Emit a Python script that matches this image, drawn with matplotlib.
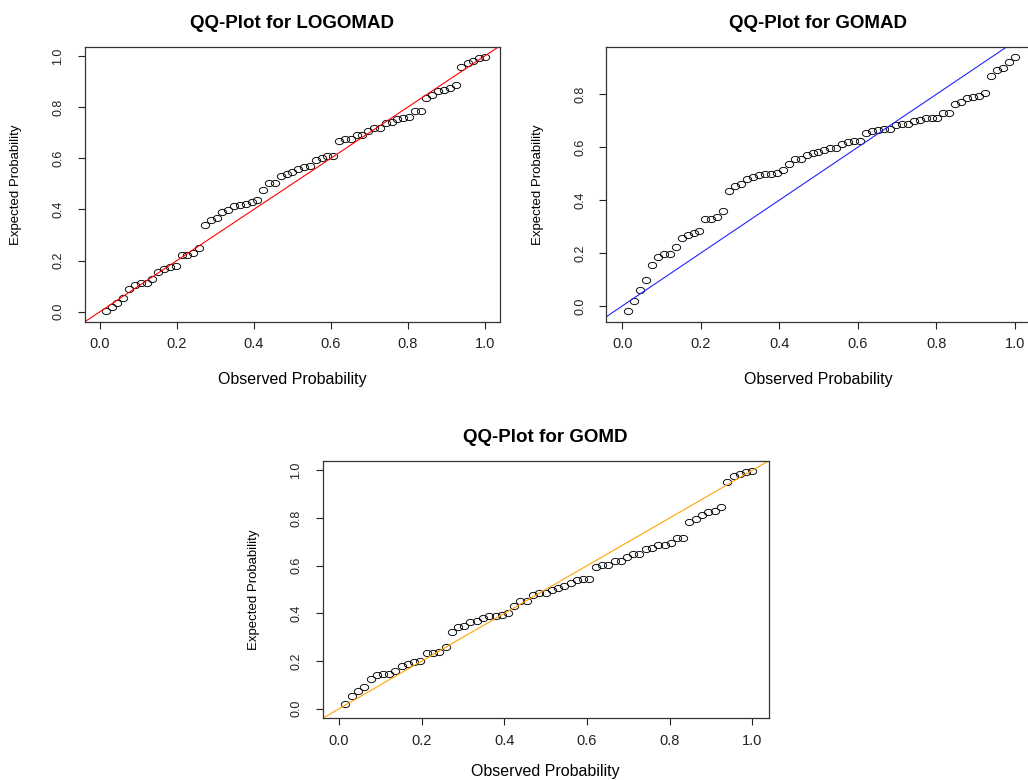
import numpy as np
import matplotlib
matplotlib.use("Agg")
import matplotlib.pyplot as plt
from matplotlib.path import Path

plt.rcParams['font.family'] = ['Liberation Sans', 'DejaVu Sans']

# plotting positions i/66 shared by all three fits
observed = [0.015, 0.030, 0.045, 0.061, 0.076, 0.091, 0.106, 0.121, 0.136, 0.152,
            0.167, 0.182, 0.197, 0.212, 0.227, 0.242, 0.258, 0.273, 0.288, 0.303,
            0.318, 0.333, 0.348, 0.364, 0.379, 0.394, 0.409, 0.424, 0.439, 0.455,
            0.470, 0.485, 0.500, 0.515, 0.530, 0.545, 0.561, 0.576, 0.591, 0.606,
            0.621, 0.636, 0.652, 0.667, 0.682, 0.697, 0.712, 0.727, 0.742, 0.758,
            0.773, 0.788, 0.803, 0.818, 0.833, 0.848, 0.864, 0.879, 0.894, 0.909,
            0.924, 0.939, 0.955, 0.970, 0.985, 1.000]

expected_logomad = [0.003, 0.020, 0.035, 0.055, 0.087, 0.103, 0.112, 0.112, 0.129, 0.155,
                    0.165, 0.174, 0.178, 0.220, 0.220, 0.228, 0.250, 0.337, 0.360, 0.368,
                    0.390, 0.399, 0.414, 0.419, 0.420, 0.427, 0.438, 0.475, 0.502, 0.505,
                    0.529, 0.537, 0.545, 0.557, 0.566, 0.568, 0.594, 0.601, 0.607, 0.610,
                    0.666, 0.674, 0.674, 0.689, 0.689, 0.705, 0.719, 0.719, 0.739, 0.740,
                    0.753, 0.756, 0.761, 0.783, 0.783, 0.836, 0.849, 0.861, 0.867, 0.874,
                    0.888, 0.958, 0.974, 0.979, 0.991, 0.995]

expected_gomad = [-0.020, 0.018, 0.060, 0.098, 0.157, 0.184, 0.198, 0.198, 0.222, 0.256,
                  0.268, 0.277, 0.285, 0.330, 0.330, 0.336, 0.360, 0.436, 0.455, 0.460,
                  0.479, 0.486, 0.494, 0.500, 0.500, 0.503, 0.513, 0.538, 0.557, 0.556,
                  0.572, 0.577, 0.581, 0.590, 0.596, 0.598, 0.611, 0.619, 0.622, 0.624,
                  0.654, 0.661, 0.664, 0.670, 0.669, 0.683, 0.689, 0.689, 0.699, 0.704,
                  0.709, 0.709, 0.711, 0.728, 0.728, 0.765, 0.772, 0.785, 0.789, 0.795,
                  0.804, 0.871, 0.892, 0.898, 0.922, 0.940]

expected_gomd = [0.019, 0.052, 0.073, 0.093, 0.123, 0.140, 0.145, 0.145, 0.159, 0.180,
                 0.189, 0.195, 0.199, 0.233, 0.233, 0.237, 0.257, 0.322, 0.342, 0.347,
                 0.364, 0.370, 0.380, 0.388, 0.391, 0.392, 0.401, 0.429, 0.451, 0.453,
                 0.475, 0.484, 0.487, 0.498, 0.505, 0.513, 0.529, 0.538, 0.543, 0.546,
                 0.594, 0.602, 0.604, 0.620, 0.620, 0.635, 0.647, 0.647, 0.668, 0.674,
                 0.686, 0.686, 0.694, 0.717, 0.717, 0.783, 0.796, 0.813, 0.824, 0.830,
                 0.848, 0.952, 0.977, 0.984, 0.992, 0.999]

titles = ["QQ-Plot for LOGOMAD", "QQ-Plot for GOMAD", "QQ-Plot for GOMD"]
line_colors = ["red", "#2222ff", "orange"]
x_ticks = [0.0, 0.2, 0.4, 0.6, 0.8, 1.0]

# slightly squashed open circle, like R's pch=1 on this device
circ = Path.unit_circle()
oval = Path(circ.vertices * [1.0, 0.75], circ.codes)

fig = plt.figure(figsize=(10.28, 7.8), dpi=100)
axes = [fig.add_axes([0.0823, 0.5874, 0.4043, 0.3523]),
        fig.add_axes([0.5899, 0.5878, 0.4126, 0.3518]),
        fig.add_axes([0.3138, 0.0792, 0.4340, 0.3297])]
xlabel_pads = [15, 15, 12]

for ax, exp_vals, title, col, xpad in zip(axes, [expected_logomad, expected_gomad, expected_gomd],
                                           titles, line_colors, xlabel_pads):
    ax.plot(observed, exp_vals, linestyle="none", marker=oval, markersize=6,
            markerfacecolor="none", markeredgecolor="black", markeredgewidth=0.65)
    ax.margins(0.04)
    ax.axline((0, 0), slope=1, color=col, lw=0.8)
    ax.set_xticks(x_ticks)
    ax.set_xticklabels(["%.1f" % t for t in x_ticks])
    ymin, ymax = ax.get_ylim()
    yt = [t for t in x_ticks if ymin <= t <= ymax]
    ax.set_yticks(yt)
    ax.set_yticklabels(["%.1f" % t for t in yt], rotation=90, va="center")
    ax.tick_params(axis="x", direction="out", length=5, width=0.8, pad=6,
                   labelsize=10.5, colors="#222222")
    ax.tick_params(axis="y", direction="out", length=5, width=0.8, pad=9.5,
                   labelsize=9, colors="#222222")
    for s in ax.spines.values():
        s.set_linewidth(0.9)
        s.set_color("#333333")
    ax.set_title(title, fontsize=13.5, fontweight="bold", pad=14)
    ax.set_xlabel("Observed Probability", fontsize=11.5, labelpad=xpad)
    ax.set_ylabel("Expected Probability", fontsize=9.5, labelpad=22)

plt.savefig("out.png", dpi=100)
